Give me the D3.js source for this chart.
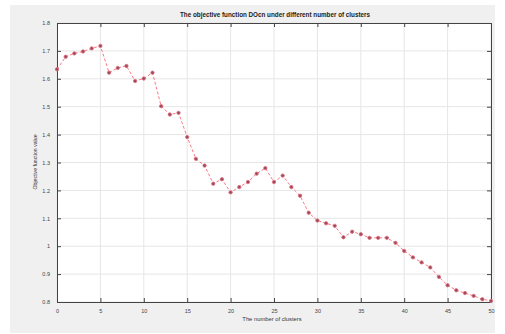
<!DOCTYPE html>
<html>
<head>
<meta charset="utf-8">
<script src="https://cdn.jsdelivr.net/npm/d3@7"></script>
<style>
  body { margin: 0; background: #fff; }
  svg { display: block; font-family: "Liberation Sans", Arial, sans-serif; }
</style>
</head>
<body>
<div id="box1"></div>
<script>
// number of clusters 0..50
var clusters = [0,1,2,3,4,5,6,7,8,9,10,11,12,13,14,15,16,17,18,19,20,21,22,23,24,25,
  26,27,28,29,30,31,32,33,34,35,36,37,38,39,40,41,42,43,44,45,46,47,48,49,50];
var values = [1.634,1.679,1.691,1.698,1.709,1.718,1.622,1.639,1.646,1.592,1.601,1.622,
  1.502,1.472,1.478,1.391,1.313,1.289,1.224,1.240,1.193,1.212,1.230,1.260,1.280,1.230,
  1.253,1.212,1.181,1.120,1.092,1.082,1.073,1.032,1.052,1.043,1.030,1.030,1.030,1.012,
  0.983,0.960,0.942,0.924,0.890,0.860,0.842,0.832,0.822,0.810,0.804];
var xTicks = [0,5,10,15,20,25,30,35,40,45,50];
var yTicks = [0.8,0.9,1,1.1,1.2,1.3,1.4,1.5,1.6,1.7,1.8];

var title = "The objective function DOcn under different number of clusters";
var xLabel = "The number of clusters";
var yLabel = "Objective function value";

document.addEventListener("DOMContentLoaded", function(e) {
    chart1();
});

function chart1(){
    var width = 505, height = 334;
    var left = 57, right = 491, top = 23, bottom = 302;

    var svg = d3.select("#box1")
        .append("svg")
        .attr("width", width)
        .attr("height", height);

    // figure background
    svg.append("rect")
        .attr("x", 10).attr("y", 5)
        .attr("width", 485).attr("height", 328)
        .attr("fill", "#f0f0f0");

    svg.append("rect")
        .attr("x", left).attr("y", top)
        .attr("width", right - left).attr("height", bottom - top)
        .attr("fill", "#fff");

    var x = d3.scaleLinear().domain([0, 50]).range([left, right]);
    var y = d3.scaleLinear().domain([0.8, 1.8]).range([bottom, top]);

    // grid
    svg.append("g").selectAll("line").data(xTicks).join("line")
        .attr("x1", d => x(d)).attr("x2", d => x(d))
        .attr("y1", top).attr("y2", bottom)
        .attr("stroke", "#e6e6e6").attr("stroke-width", 1);
    svg.append("g").selectAll("line").data(yTicks).join("line")
        .attr("x1", left).attr("x2", right)
        .attr("y1", d => y(d)).attr("y2", d => y(d))
        .attr("stroke", "#e6e6e6").attr("stroke-width", 1);

    // axes (ticks inward, on all four sides)
    var fmt = d3.format("~g");
    var ax = [
        [d3.axisBottom(x).tickValues(xTicks).tickFormat(fmt), bottom, 0, true],
        [d3.axisTop(x).tickValues(xTicks).tickFormat(""), top, 0, false],
        [d3.axisLeft(y).tickValues(yTicks).tickFormat(fmt), 0, left, true],
        [d3.axisRight(y).tickValues(yTicks).tickFormat(""), 0, right, false]
    ];
    ax.forEach(function(a){
        var g = svg.append("g")
            .attr("transform", "translate(" + a[2] + "," + a[1] + ")")
            .call(a[0].tickSizeInner(-4).tickSizeOuter(0).tickPadding(a[3] ? 7 : 0));
        g.select(".domain").attr("stroke", "#444");
        g.selectAll(".tick line").attr("stroke", "#444");
        g.selectAll("text").attr("font-size", 5.5).attr("fill", "#444");
    });

    // line
    var line = d3.line()
        .x((d, i) => x(clusters[i]))
        .y(d => y(d));
    svg.append("path")
        .datum(values)
        .attr("d", line)
        .attr("fill", "none")
        .attr("stroke", "#ff7888")
        .attr("stroke-width", 1)
        .attr("stroke-dasharray", "3,2");

    svg.append("g").selectAll("circle").data(values).join("circle")
        .attr("cx", (d, i) => x(clusters[i]))
        .attr("cy", d => y(d))
        .attr("r", 1.7)
        .attr("fill", "#9a4a58")
        .attr("stroke", "#e07080")
        .attr("stroke-width", 0.8);

    svg.append("text")
        .attr("x", 275).attr("y", 17)
        .attr("text-anchor", "middle")
        .attr("font-size", 6.3).attr("font-weight", "bold")
        .attr("fill", "#222")
        .text(title);

    svg.append("text")
        .attr("x", 272).attr("y", 321)
        .attr("text-anchor", "middle")
        .attr("font-size", 5.8).attr("fill", "#333")
        .text(xLabel);

    svg.append("text")
        .attr("transform", "translate(37,162) rotate(-90)")
        .attr("text-anchor", "middle")
        .attr("font-size", 5.2).attr("fill", "#333")
        .text(yLabel);
}
</script>
</body>
</html>
